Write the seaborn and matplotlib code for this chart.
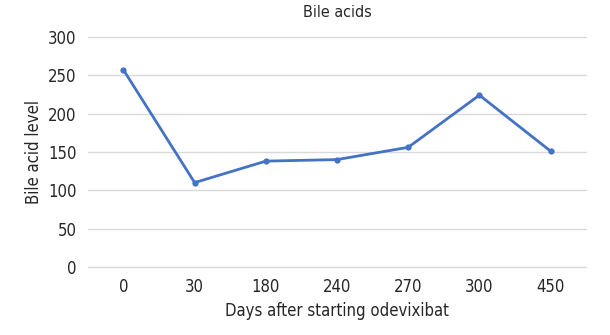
import matplotlib
matplotlib.use("Agg")
import matplotlib.pyplot as plt
import seaborn as sns
import pandas as pd

days = ["0", "30", "180", "240", "270", "300", "450"]
bile_acid = [257, 110, 138, 140, 156, 224, 151]

sns.set_theme(style="white")
plt.rcParams['font.family'] = ['DejaVu Sans']
plt.rcParams['font.stretch'] = 'condensed'

df = pd.DataFrame({"day": days, "level": bile_acid})

fig = plt.figure(figsize=(6.1, 3.35), dpi=100)
ax = fig.add_axes([0.144, 0.203, 0.817, 0.687])
sns.lineplot(data=df, x="day", y="level", ax=ax, sort=False, color="#4472C4",
             linewidth=2, marker="o", markersize=4.5, markeredgewidth=0)

ax.set_ylim(0, 300)
ax.set_xlim(-0.5, len(days) - 0.5)
ax.set_yticks(range(0, 301, 50))
ax.yaxis.grid(True, color="#D9D9D9", linewidth=1)
for gl in ax.get_ygridlines():
    gl.set_clip_on(False)
ax.set_axisbelow(True)
for s in ax.spines.values():
    s.set_visible(False)
ax.tick_params(axis="both", length=0, labelsize=12, colors="#262626", pad=8)
ax.set_xlabel("Days after starting odevixibat", fontsize=12, color="#262626", labelpad=4)
ax.set_ylabel("Bile acid level", fontsize=12, color="#262626", labelpad=4)
ax.set_title("Bile acids", fontsize=11.5, color="#262626", pad=14)

fig.savefig("out.png", dpi=100)
